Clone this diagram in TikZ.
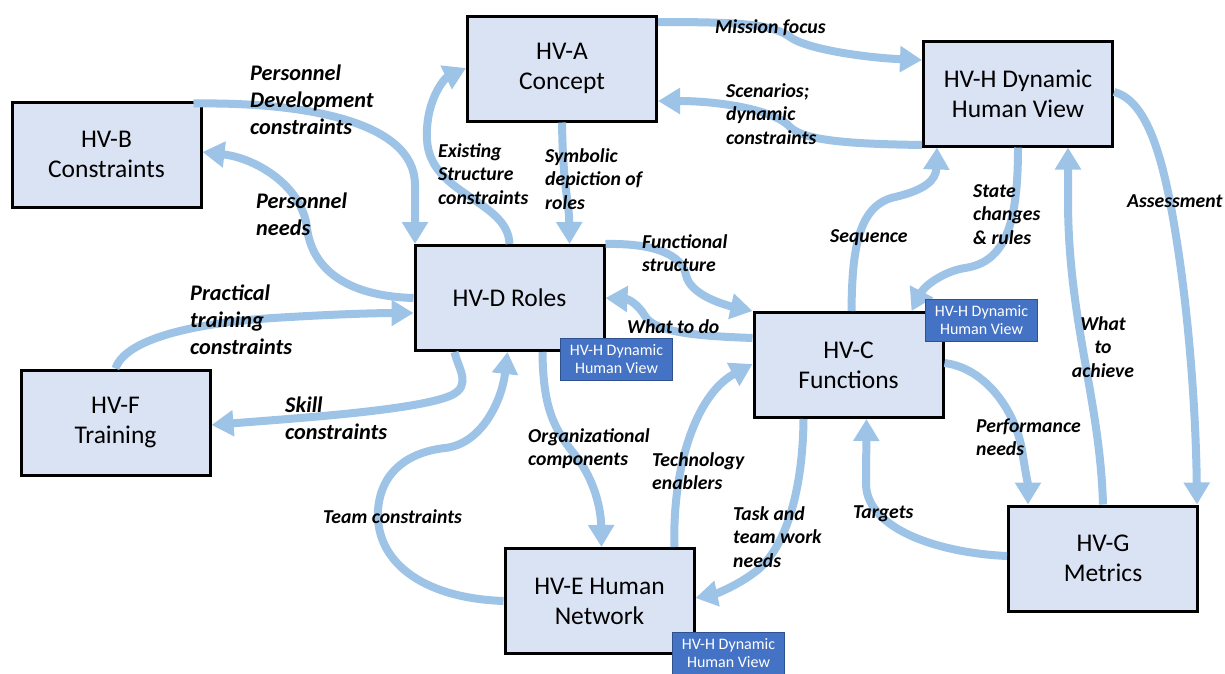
\documentclass[tikz,border=0pt]{standalone}
\usepackage{fontspec}
\setmainfont{Carlito}
\usetikzlibrary{arrows.meta,calc}
\definecolor{boxfill}{HTML}{DAE3F3}
\definecolor{flow}{HTML}{9DC3E6}
\definecolor{tagfill}{HTML}{4472C4}
\definecolor{tagline}{HTML}{2F528F}

\begin{document}
\begin{tikzpicture}[x=1pt,y=-1pt,
  view/.style={draw=black, line width=3pt, fill=boxfill, minimum width=189pt,
    minimum height=105pt, inner sep=0pt, align=center,
    font=\fontsize{25.5}{30}\selectfont},
  tagbox/.style={draw=tagline, line width=1pt, fill=tagfill, text=white,
    minimum width=112pt, minimum height=42pt, inner sep=0pt, align=center,
    font=\fontsize{16}{18}\selectfont},
  flowarrow/.style={draw=flow, line width=8pt, -{Triangle[width=25pt,length=22pt]}},
  flowlabel/.style={inner sep=0pt, anchor=base west, align=left,
    font=\bfseries\itshape\fontsize{19.7}{23.5}\selectfont},
  widelabel/.style={flowlabel, font=\bfseries\itshape\fontsize{22.3}{27}\selectfont},
]
\useasboundingbox (0,0) rectangle (1225,673);

% views
\node[view] (A) at (562,68.5)   {HV-A\\Concept};
\node[view] (B) at (106.5,154.5) {HV-B\\Constraints};
\node[view] (H) at (1018,93.5)  {HV-H Dynamic\\Human View};
\node[view] (D) at (509.5,298)  {HV-D Roles};
\node[view] (C) at (848.5,365)  {HV-C\\Functions};
\node[view] (F) at (115.5,422.5) {HV-F\\Training};
\node[view] (E) at (599.5,601)  {HV-E Human\\Network};
\node[view] (G) at (1103,558.5) {HV-G\\Metrics};

% flows between views
\draw[flowarrow] (A.east |- 0,22) .. controls (740,22) and (772,24) .. (790,37)
  .. controls (808,50) and (870,58) .. (H.west |- 0,60);
\draw[flowarrow] (H.west |- 0,145) .. controls (860,144) and (805,142) .. (790,127)
  .. controls (775,110) and (720,101) .. (A.east |- 0,101);
\draw[flowarrow] ($(B.north east)+(-9,3)$) .. controls (300,102) and (415,120) .. (415,185)
  -- ($(D.north west)+(1.5,0)$);
\draw[flowarrow] (D.west |- 0,298) .. controls (345,296) and (312,268) .. (307,228)
  .. controls (302,185) and (255,158) .. (B.east |- 0,152);
\draw[flowarrow] (D.north) .. controls (508,200) and (430,195) .. (427,140)
  .. controls (425,100) and (445,78) .. (A.west |- 0,68);
\draw[flowarrow] (A.south) .. controls (563,190) and (569,200) .. ($(D.north)+(60,0)$);
\draw[flowarrow] (F.north) .. controls (125,340) and (190,322) .. (290,317)
  .. controls (340,314) and (380,313) .. (D.west |- 0,313);
\draw[flowarrow] ($(D.south)+(-55,0)$) .. controls (458,368) and (472,385) .. (452,395)
  .. controls (420,410) and (300,418) .. (F.east |- 0,425);
\draw[flowarrow] (D.north east) .. controls (655,243) and (682,255) .. (686,275)
  .. controls (690,295) and (725,305) .. (C.north west);
\draw[flowarrow] (C.west |- 0,338) .. controls (700,336) and (655,333) .. (645,316)
  .. controls (638,304) and (628,299) .. (D.east |- 0,298);
\draw[flowarrow] ($(C.north)+(3,0)$) .. controls (852,250) and (858,205) .. (895,197)
  .. controls (925,190) and (936,180) .. ($(H.south west)+(15,0)$);
\draw[flowarrow] (H.south) .. controls (1018,225) and (1005,262) .. (965,268)
  .. controls (945,271) and (925,285) .. ($(C.north)+(63,0)$);
\draw[flowarrow] (H.east |- 0,92) .. controls (1145,100) and (1162,150) .. (1175,230)
  .. controls (1190,320) and (1196,420) .. ($(G.north east)+(-2,0)$);
\draw[flowarrow] (G.north) .. controls (1100,400) and (1068,320) .. (1068,200)
  -- ($(H.south)+(50,0)$);
\draw[flowarrow] (C.east |- 0,363) .. controls (985,368) and (1015,410) .. (1022,450)
  .. controls (1025,470) and (1028,485) .. ($(G.north)+(-75,0)$);
\draw[flowarrow] (G.west |- 0,556) .. controls (940,553) and (868,530) .. (866,485)
  -- ($(C.south)+(18,0)$);
\draw[flowarrow] ($(C.south)+(-45,0)$) .. controls (803,480) and (790,540) .. (760,568)
  .. controls (740,585) and (715,594) .. (E.east |- 0,598);
\draw[flowarrow] ($(E.north)+(75,0)$) .. controls (672,470) and (695,395) .. (C.west |- 0,364);
\draw[flowarrow] ($(D.south)+(33,0)$) .. controls (543,410) and (555,430) .. (575,455)
  .. controls (595,480) and (601,510) .. ($(E.north)+(2,0)$);
\draw[flowarrow] (E.west |- 0,601) .. controls (420,598) and (375,560) .. (378,510)
  .. controls (381,470) and (410,452) .. (445,448)
  .. controls (482,444) and (502,400) .. ($(D.south)+(-2,0)$);

% flow labels (anchored at the baseline of their last line)
\node[flowlabel] (lMission) at (715,33) {Mission focus};
\node[flowlabel] (lScen) at (726,144) {Scenarios;\\dynamic\\constraints};
\node[widelabel] (lPersDev) at (250,134) {Personnel\\Development\\constraints};
\node[widelabel] (lPersNeed) at (256,235) {Personnel\\needs};
\node[flowlabel] (lExist) at (438,204) {Existing\\Structure\\constraints};
\node[flowlabel] (lSymb) at (545,209) {Symbolic\\depiction of\\roles};
\node[widelabel] (lPract) at (190,354) {Practical\\training\\constraints};
\node[widelabel] (lSkill) at (285,439) {Skill\\constraints};
\node[flowlabel] (lFunc) at (642,271.5) {Functional\\structure};
\node[flowlabel] (lWhatDo) at (627,333) {What to do};
\node[flowlabel] (lSeq) at (830,242) {Sequence};
\node[flowlabel] (lState) at (973,244) {State\\changes\\\& rules};
\node[flowlabel] (lAssess) at (1127,207) {Assessment};
\node[flowlabel, align=center, anchor=base] (lAchieve) at (1103,377) {What\\to\\achieve};
\node[flowlabel] (lPerf) at (976,455.5) {Performance\\needs};
\node[flowlabel] (lTarg) at (853,518) {Targets};
\node[flowlabel] (lOrg) at (528,465.5) {Organizational\\components};
\node[flowlabel] (lTech) at (652,489.5) {Technology\\enablers};
\node[flowlabel] (lTask) at (733,567) {Task and\\team work\\needs};
\node[flowlabel] (lTeam) at (323,523) {Team constraints};

% dynamic view tags
\node[tagbox] (tD) at (616.5,359.5) {HV-H Dynamic\\Human View};
\node[tagbox] (tC) at (981.5,320.5) {HV-H Dynamic\\Human View};
\node[tagbox] (tE) at (728.5,653.5) {HV-H Dynamic\\Human View};
\end{tikzpicture}
\end{document}
